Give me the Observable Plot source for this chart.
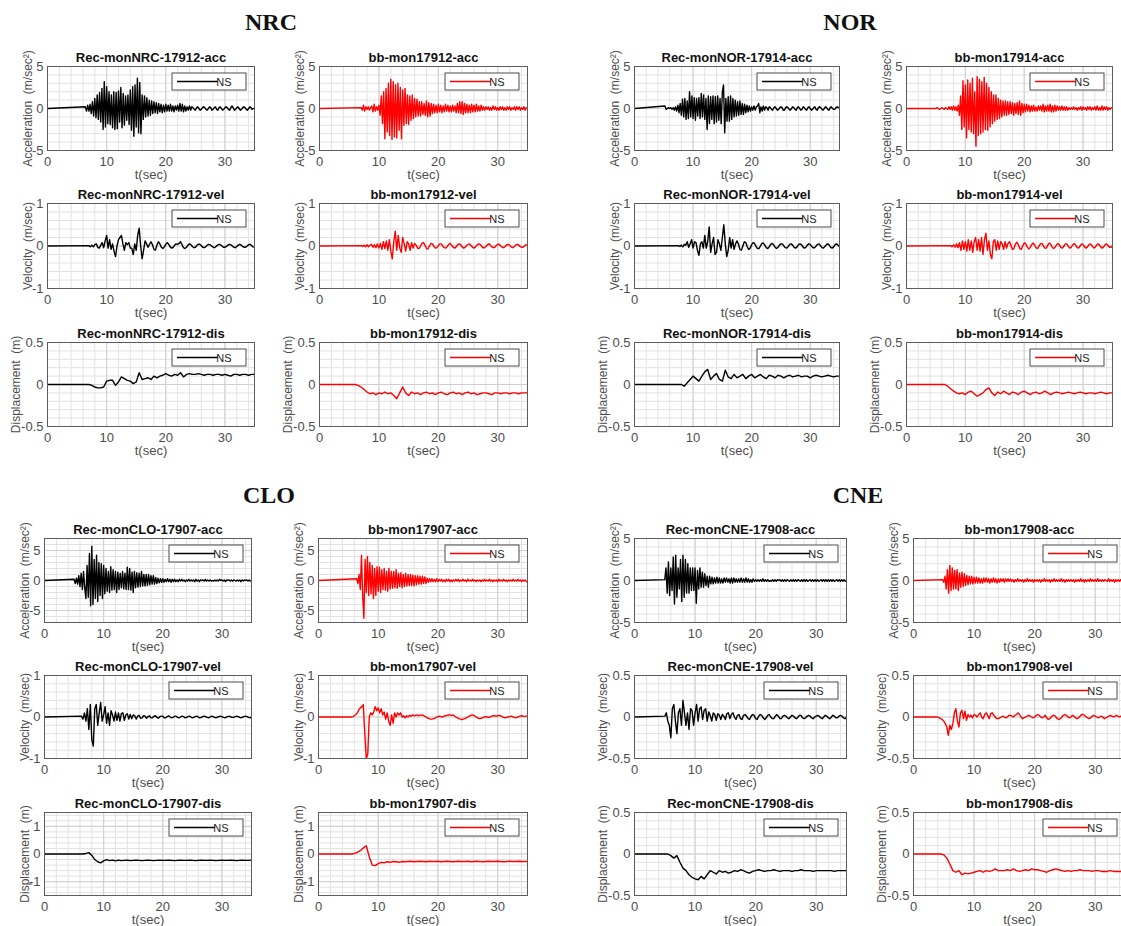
<!DOCTYPE html>
<html><head><meta charset="utf-8">
<script src="https://cdn.jsdelivr.net/npm/d3@7"></script>
<script src="https://cdn.jsdelivr.net/npm/@observablehq/plot@0.6"></script>
<style>
body{margin:0;background:#fff;}
#root{position:relative;width:1121px;height:926px;overflow:hidden;background:#fff;}
.panel{position:absolute;}
.panel svg{max-width:none;overflow:visible;}
#heads{position:absolute;left:0;top:0;}
</style></head><body><div id="root">
<svg id="heads" width="1121" height="926"></svg>
</div>
<script>
// ---------- tick labels ----------
const xTicks = [0, 10, 20, 30];
const accTicks = [-5, 0, 5];
const velTicks = [-1, 0, 1];
const halfTicks = [-0.5, 0, 0.5];
const cloDisTicks = [-1, 0, 1];

// ---------- group titles ----------
const groupNames = ["NRC", "NOR", "CLO", "CNE"];

// ---------- acceleration (m/sec^2), step 0.2 s from onset ----------
const nrcRecAcc = [.2,-.3,.4,-.3,.5, -.6,.8,-.9,1.2,-1.1, 1.6,-1.3,1.9,-1.6,2.4, -2.5,3.2,-2.2,2.6,-1.8, 2.0,-1.9,1.6,-2.3,2.0, -2.5,1.9,-2.4,2.1,-1.6, 2.5,-2.3,1.8,-2.0,1.5, -1.4,1.6,-1.9,2.2,-2.6, 2.6,-3.3,2.8,-2.2,3.6, -2.9,3.1,-3.0,1.6,-1.3, 1.5,-1.0,1.3,-.9,1.0, -.8,.9,-.6,.8,-.5, .7,-.6,.6,-.4,.5, -.5,.4,-.4,.5,-.3, .4,-.3,.5,-.3,.3, -.4,.3,-.2,.4,-.3, .6,-.3,.5,-.4,.3, -.3,.2,-.2,.3,-.2, .2,.1,-.1,-.2,.1, .2,0,-.2,-.1,.1, .2,.1,-.1,-.2,0, .2,.1,-.2,-.1,.1, .2,-.1,-.2,.1,.2, 0,-.2,-.1,.1,.2, .1,-.1,-.2,.1,.3, .1,-.2,-.1,.1,.2, 0,-.2,-.1,.1,.2, .1,-.1,-.2,0,.2, .1,-.1,0];
const nrcBbAcc = [.1,-.2,.4,-.3,.2, -.1,.2,-.2,.1,.3, -.4,.5,-.3,.2,-.2, .4,-.8,1.5,-1.8,2.0, -3.6,2.4,-2.8,3.0,-3.2, 3.5,-3.7,3.2,-3.4,2.8, -3.5,3.0,-2.6,2.5,-3.6, 2.2,-2.0,2.4,-1.8,1.6, -1.9,1.5,-1.4,1.6,-1.2, 1.2,-1.0,1.1,-.9,.8, -.9,.8,-.7,.6,-.8, .9,-1.0,.7,-.9,.6, -.6,.5,-.5,.4,-.5, .5,-.4,.4,-.5,.3, -.4,.5,-.3,.4,-.4, .3,-.4,.4,-.3,.3, -.5,.6,-.5,.8,-.6, .8,-.7,.6,-.5,.5, -.5,.4,-.5,.5,-.4, .4,-.4,.5,-.3,.3, -.3,.4,-.2,.2,-.2, .2,-.1,.2,-.2,.1, -.2,.3,-.1,.2,-.2, .1,-.2,.2,-.1,.2, -.2,.1,-.2,.2,-.1, .2,-.2,.1,-.1,.2, -.2,.2,-.1,.2,-.2, .1,-.1,.2,-.2,.1];
const norRecAcc = [.3,-.1,0,.1,0, .1,-.1,.1,-.2,.2, -.3,.4,-.5,.6,-.8, 1.1,-1.0,1.2,-1.3,.9, -1.2,2.0,-1.0,1.5,-1.2, 1.3,-1.4,1.2,-.9,1.3, -1.2,1.8,-1.0,1.6,-1.3, 1.2,-2.5,1.5,-1.8,1.4, -1.3,1.5,-1.8,1.4,-1.6, 1.5,-1.4,1.2,-1.8,2.0, 2.8,-2.9,1.2,-1.5,1.4, -1.5,1.5,-1.3,1.2,-1.0, 1.0,-.9,.8,-.8,.9, -.7,.6,-.7,.5,-.5, .4,-.4,.3,-.3,.2, -.2,.3,-.2,.2,.3, .6,-.5,.2,-.3,.3, -.2,.2,.1,-.2,.2, .1,-.1,-.2,.1,.2, 0,-.2,-.1,.1,.2, .1,-.2,-.2,.1,.2, .1,-.1,-.2,0,.2, .1,-.1,-.2,.1,.2, 0,-.2,-.1,.2,.1, -.1,-.2,.1,.2,0, -.2,-.1,.1,.2,-.1, -.2,.1,.2,.1,-.1, -.2,0,.2,.1,-.1, -.2,.1,.2,0,-.1, -.1,.1,.2,.1];
const norBbAcc = [0,.1,0,-.1,0, .1,0,-.1,.1,0, -.1,.2,-.1,.2,-.2, .3,-.2,.2,-.3,.4, -.8,1.5,-2.5,3.3,-2.2, 2.8,-3.5,3.4,-2.5,3.0, -2.8,3.6,-3.0,2.0,-4.5, 3.8,-3.2,3.5,-3.0,3.2, -2.8,3.7,-2.5,3.0,-2.6, 2.5,-2.2,2.0,-1.8,1.6, -1.5,1.6,-1.3,1.2,-1.2, 1.0,-1.0,.9,-.8,.9, -.8,.8,-.7,.8,-.6, .7,-.8,.6,-.6,.7, -.7,.9,-.8,.6,-.5, .5,-.4,.5,-.3,.4, -.4,.3,-.3,.4,-.3, .2,-.3,.3,-.2,.3, -.3,.5,-.4,.3,-.3, .4,-.3,.5,-.4,.3, -.4,.4,-.3,.3,-.2, .2,-.2,.3,-.2,.2, -.2,.2,-.2,.1,-.1, .1,-.1,.2,-.1,.1, -.2,.1,-.1,.2,-.2, .2,-.1,.1,-.2,.2, -.1,.2,-.2,.1,-.1, .2,-.2,.3,-.2,.1, -.2,.3,-.2,.2,-.1, .2,-.2,.1,-.1,.1];
const cloRecAcc = [.2,-.5,.4,-.6,.8, -1.0,1.2,-1.5,1.5,-1.2, -3.0,2.5,-2.8,4.5,-4.2, 5.7,-4.0,3.5,-3.0,4.2, -3.5,3.0,-2.5,2.8,-3.0, 2.5,-2.2,2.0,-1.8,1.5, -2.0,2.3,-1.6,1.8,-1.5, 1.5,-2.0,1.4,-1.5,1.2, -1.2,1.5,-1.4,1.2,-1.5, 2.2,-1.5,2.0,-1.6,1.4, -2.0,1.5,-1.2,1.3,-1.1, 1.2,-1.0,1.5,-.9,1.0, -.9,1.0,-.8,1.0,-.7, .8,-.6,.8,-.6,.5, -.5,.4,-.4,.3,-.3, .3,-.3,.2,-.2,.3, -.2,.2,-.3,.2,-.2, .2,-.2,.1,-.2,.2, -.1,.2,-.1,.1,-.2, .1,-.1,.2,-.1,.1, -.1,.1,-.2,.2,-.1, .1,-.2,.1,0,.1, -.1,.2,-.1,.1,-.1, .1,-.1,0,-.1,.1, -.1,.1,-.1,.2,0, .1,-.1,.1,-.2,.1, 0,.1,-.1,.1,-.1, .1,0,-.1,.1,-.1, .1,-.2,.1,-.1,.1, 0,.1,-.1,.1,-.1];
const cloBbAcc = [.3,-.5,1.0,-1.5,4.2, -2.5,-6.3,3.5,-2.0,4.0, -2.5,3.0,-2.2,2.5,-3.0, 2.0,-2.5,2.3,-1.8,2.2, -2.0,1.8,-1.5,2.0,-1.6, 1.5,-1.8,2.0,-1.4,1.5, -1.3,1.5,-1.2,1.8,-1.3, 1.2,-1.0,1.3,-1.2,1.0, -1.0,1.2,-.9,1.0,-.8, 1.0,-.8,.9,-.9,.8, -.7,.8,-.6,.7,-.6, .7,-.5,.6,-.5,.4, -.3,.3,-.2,.3,-.2, .2,-.2,.3,-.2,.2, -.1,.2,-.2,.1,-.2, .2,-.1,.2,-.2,.1, -.2,.1,-.1,.2,-.1, .2,-.2,.1,-.1,.2, -.1,.1,-.2,.2,-.1, .1,-.1,.2,-.1,.1, -.2,.1,-.1,.1,-.2, .1,-.1,.2,-.1,.1, -.1,.2,-.1,.1,-.2, .1,-.1,.1,-.2,.2, -.1,.1,-.1,.2,-.1, .1,-.2,.1,-.1,.1, -.1,.2,-.1,.1,-.1, .2,-.1,.1,-.2,.1, -.1,.1,-.2];
const cneRecAcc = [.1,1.5,-1.5,2.2,-1.8, 1.5,-1.2,2.8,-2.8,3.0, -2.0,1.5,-1.0,2.5,-2.5, 3.0,-2.0,2.5,-1.5,2.0, -1.5,1.5,-1.2,1.5,-1.2, 1.5,-2.7,1.2,-1.0,1.5, -.8,1.0,-.8,.8,-.6, .5,-.8,.5,-.4,.4, -.4,.3,-.3,.4,-.3, .3,-.3,.2,-.3,.3, -.2,.3,-.2,.2,-.3, .3,-.3,.3,-.2,.2, -.2,.2,-.2,.3,-.2, .2,-.2,.3,-.2,.2, -.2,.1,-.2,.2,-.1, .1,-.1,.1,-.1,.1, -.1,.2,-.1,.1,-.1, .1,-.1,0,-.1,.1, -.1,.1,-.1,.1,0, .1,-.1,.1,-.1,.1, -.1,.1,0,-.1,.1, -.1,.1,-.1,.1,-.1, .1,0,-.1,.1,-.1, .1,-.1,.1,-.1,0, .1,-.1,.1,-.1,.1, -.1,.1,-.1,0,.1, -.1,.1,-.1,.1,-.1, .1,-.1,.1,-.1,.1, -.1,0,.1,-.1,.1, -.1,.1,-.1,.1,-.1, 0];
const cneBbAcc = [.1,-.2,.5,-1.0,1.3, -1.5,1.8,-1.2,1.5,-1.0, 1.2,-1.0,1.3,-1.2,.9, -.8,1.0,-.7,.8,-.6, .6,-.5,.5,-.4,.5, -.4,.4,-.3,.4,-.3, .3,-.3,.2,-.3,.3, -.2,.3,-.2,.2,-.3, .2,-.2,.3,-.2,.2, -.3,.2,-.2,.2,-.1, .2,-.2,.2,-.1,.2, -.1,.2,-.1,.1,-.2, .1,-.1,.2,-.1,.1, -.1,.1,-.2,.1,-.1, .2,-.1,.1,-.1,.1, -.2,.1,-.1,.1,-.1, .1,-.2,.1,-.1,.2, -.1,.1,-.1,.1,-.2, .1,-.1,.2,-.1,.1, -.1,.1,-.1,.2,-.1, .1,-.2,.1,-.1,.1, -.1,.1,-.1,.1,-.2, .1,-.1,.1,-.1,.2, -.1,.1,-.2,.1,-.1, .1,-.1,.2,-.1,.1, -.1,.1,-.1,.2,-.1, .1,-.1,.1,-.1,.1, 0,-.1,.2,-.1,.1, -.1,.1,-.2,.1,-.1, .1,-.1,.1,-.2,.1, 0];

// ---------- velocity (m/sec), step 0.25 s from onset ----------
const nrcRecVel = [.01,-.02,.02,-.02, .03,.05,-.03,-.05, .02,.08,-.04,.12, .25,-.05,.15,-.08, .05,-.12,-.25,0, .15,.2,.25,.05, -.1,.08,.03,.08, -.05,-.05,-.2,.05, -.1,.25,.42,0, -.3,-.1,.12,.05, -.03,.04,.1,.03, -.08,-.1,.02,.1, .05,-.03,-.06,-.02, .04,.08,.04,-.02, -.05,-.03,.02,.05, .04,.06,.1,.03, -.04,-.06,-.03,.02, .05,.03,-.01,-.04, -.03,.01,.04,.04, .01,-.03,-.04,-.02, .02,.04,.03,0, -.03,-.04,-.01,.02, .04,.03,0,-.03, -.03,-.01,.02,.04, .03,0,-.03,-.04, -.01,.02,.04,.02, -.01,-.03,-.03,0, .03,.04,.01,-.02, -.03];
const nrcBbVel = [.01,-.01,.02,-.02, .03,-.02,.02,.04, -.03,.03,-.04,.05, -.05,.06,-.08,.1, -.06,.12,-.1,.15, -.12,-.3,.1,.35, -.1,.25,-.05,-.15, .2,.05,-.12,.1, .05,-.1,.08,-.05, .06,.02,-.05,-.06, 0,.06,.08,.02, -.06,-.07,0,.06, .05,-.01,-.05,-.04, .01,.05,.05,0, -.04,-.05,-.01,.04, .06,.02,-.03,-.05, -.02,.03,.05,.03, -.02,-.05,-.03,.01, .04,.05,.01,-.03, -.05,-.02,.02,.05, .04,0,-.04,-.04, -.01,.03,.05,.02, -.02,-.04,-.03,.01, .04,.04,0,-.03, -.04,-.01,.03,.04, .02,-.02,-.04,-.02, .02,.04,.03,-.01, -.03,-.03,0,.03, .03];
const norRecVel = [.01,-.01, .02,-.02,.04,.02, .1,-.03,.05,.15, -.05,.1,.08,-.1, -.22,.05,.1,-.05, .25,-.05,.1,.45, -.15,.05,.2,-.2, -.15,.15,.05,-.1, .2,.5,.05,-.25, -.1,.2,-.05,.15, -.08,.05,.12,.04, -.08,-.1,0,.1, .08,-.02,-.08,-.05, .03,.08,.06,-.01, -.06,-.06,0,.06, .07,.02,-.04,-.06, -.02,.04,.06,.03, -.03,-.06,-.03,.02, .05,.05,0,-.04, -.05,-.01,.04,.05, .02,-.03,-.05,-.02, .03,.05,.03,-.02, -.05,-.03,.02,.05, .04,-.01,-.04,-.04, 0,.04,.05,.01, -.04,-.05,-.01,.03, .05,.02,-.03,-.05, -.02,.03,.05,.02, -.02];
const norBbVel = [.01,-.02, .03,-.03,.05,-.04, .08,-.1,.12,-.08, .1,-.12,.15,-.1, .12,-.15,.1,.2, -.1,.15,-.12,.2, -.2,.15,.3,-.1, .12,-.2,-.3,.1, .15,-.1,.12,-.08, .1,.05,-.08,.1, -.05,.06,.1,.02, -.08,-.06,.04,.09, .03,-.06,-.08,0, .07,.06,-.02,-.07, -.04,.03,.07,.03, -.04,-.06,-.01,.05, .06,0,-.05,-.05, .02,.07,.04,-.03, -.06,-.03,.03,.06, .02,-.04,-.05,0, .05,.05,-.01,-.05, -.03,.03,.06,.02, -.04,-.05,0,.05, .04,-.02,-.05,-.02, .03,.05,.01,-.04, -.04,.01,.05,.03, -.02,-.05,-.02,.03, .05,.01,-.03,-.03, .01];
const cloRecVel = [.02,-.05,.1, -.1,.2,-.3,.3, -.55,-.7,.2,.3, -.2,.1,.35,-.1, .05,.25,-.15,.1, -.2,.15,.05,-.1, .12,-.08,.1,-.1, .08,.1,-.08,.05, .08,-.05,.06,-.04, .05,.03,-.05,.02, .04,-.03,-.02,.03, .02,-.03,.01,.03, -.02,-.02,.02,.03, -.01,-.03,.01,.02, .02,-.02,-.02,.01, .03,0,-.02,-.01, .02,.02,-.01,-.02, 0,.02,.01,-.02, -.01,.01,.02,0, -.02,-.01,.01,.02, 0,-.02,-.01,.01, .02,.01,-.01,-.02, 0,.02,.01,-.01, -.02,0,.01,.02, .01,-.01,-.02,0, .01,.02,0,-.01, -.01,.01,.02,.01, -.01,-.02,0,.01, .02,.01,-.01,-.02, 0];
const cloBbVel = [0,.01, .03,.06,.1,.17, .22,.25,.3,-.4, -1.0,-.9,0,.1, .05,.12,.25,.15, .22,.1,.2,.05, .12,-.05,.1,-.1, -.2,.05,-.15,.1, 0,.1,.05,.1, 0,.03,-.02,.03, 0,.04,.02,.05, .03,.04,.05,.03, .05,.04,.05,.02, 0,-.02,-.04,-.05, -.05,-.04,-.03,-.01, .01,.02,.01,0, .02,.03,.04,.05, .05,.04,.05,.03, 0,-.02,-.04,-.05, -.06,-.05,-.04,-.02, 0,.02,.04,.05, .04,.02,-.01,-.03, -.04,-.03,-.02,0, .01,0,-.01,0, .02,.03,.03,.02, .03,.04,.03,.01, -.01,-.02,-.01,0, .01,.02,.01,-.01, -.02,-.01,.01,.02, .03,.02,.01,.02, .03];
const cneRecVel = [.01,.05,-.05,-.1, -.25,.1,.15,-.05, -.2,.05,.1,-.1, .2,.05,-.1,.05, -.15,.1,.08,-.1, .05,.15,-.05,.1, .12,-.03,.08,.1, -.05,.06,.02,-.05, .05,.03,-.04,.04, .02,-.03,.03,.01, -.03,.04,.05,-.02, .03,.05,0,-.03, .02,.03,-.02,-.03, .02,.03,.01,-.02, -.03,.01,.03,.02, -.02,-.03,.01,.03, .02,-.01,-.03,-.01, .02,.03,0,-.02, -.02,.01,.03,.01, -.02,-.02,.01,.02, .01,-.01,-.02,0, .02,.01,-.01,-.02, 0,.02,.02,-.01, -.02,-.01,.01,.02, .01,-.01,-.02,0, .01,.02,.01,-.01, -.02,0,.02,.01, -.01,-.02,0,.02, .01,-.01,-.01,.01, .02,.01,-.01,-.02, 0];
const cneBbVel = [0,-.01,-.02,-.03, -.05,-.08,-.12,-.22, -.1,-.15,-.08,.05, .1,-.05,-.12,.05, .08,-.02,.07,-.04, .03,0,.02,-.01, .03,.02,0,.03, .05,0,-.02,.03, .05,.02,-.02,.04, .05,.02,0,-.02, -.02,-.01,0,.01, 0,-.01,0,.02, .02,.01,0,.02, .03,.05,.03,0, -.02,-.01,0,.01, .02,.01,0,-.01, 0,.02,.03,.02, 0,-.01,0,.02, -.01,-.03,-.02,0, .02,.02,0,-.02, -.03,-.02,0,.02, .03,.02,0,-.01, 0,.02,.01,-.01, -.02,-.01,.01,.03, .03,.02,0,-.01, -.02,-.01,.01,.02, .01,0,-.01,0, .01,0,-.02,-.01, 0,.01,.02,.01, 0,.01,.02,.01, 0,.01,.02,.02, .01];

// ---------- displacement (m), step 0.5 s from onset ----------
const nrcRecDis = [0,-.01,-.03,-.04,-.04,-.03, .04,.05,.05,-.01,.03,.09, .07,.05,.04,.01,.03,.14, .06,.07,.08,.06,.1,.08, .1,.11,.13,.11,.1,.12, .11,.14,.09,.12,.13,.12, .12,.13,.12,.11,.12,.12, .11,.12,.12,.11,.12,.11, .1,.12,.12,.11,.12,.12, .11,.12,.12];
const nrcBbDis = [0,-.01,-.03,-.06,-.09,-.11, -.1,-.12,-.1,-.11,-.09,-.11, -.1,-.13,-.17,-.1,-.03,-.1, -.13,-.09,-.11,-.1,-.12,-.1, -.09,-.11,-.1,-.12,-.1,-.09, -.11,-.12,-.1,-.09,-.11,-.1, -.12,-.1,-.09,-.11,-.1,-.12, -.11,-.1,-.1,-.11,-.12,-.1, -.1,-.11,-.1,-.1,-.11,-.1, -.1,-.11,-.1,-.1,-.1];
const norRecDis = [0,-.02,.02,.06,.1,.07, .04,.1,.15,.18,.06,.1, .13,.06,.04,.17,.09,.07, .12,.08,.1,.12,.07,.1, .12,.08,.1,.12,.09,.07, .11,.1,.08,.11,.1,.08, .1,.11,.09,.1,.11,.09, .1,.1,.08,.1,.11,.1, .09,.1,.11,.1,.09,.1, .1];
const norBbDis = [0,-.02,-.05,-.08,-.1,-.11, -.1,-.12,-.09,-.08,-.11,-.14, -.12,-.1,-.06,-.04,-.1,-.13, -.09,-.11,-.08,-.1,-.12,-.09, -.1,-.12,-.09,-.08,-.1,-.12, -.1,-.09,-.11,-.1,-.08,-.1, -.12,-.1,-.09,-.1,-.11,-.1, -.09,-.1,-.11,-.1,-.09,-.1, -.11,-.1,-.1,-.11,-.1,-.09, -.1,-.11,-.1,-.1];
const cloRecDis = [0,.02,.05,-.05,-.2,-.28, -.32,-.25,-.2,-.24,-.22,-.25, -.22,-.24,-.23,-.22,-.24,-.23, -.22,-.23,-.24,-.23,-.22,-.23, -.24,-.23,-.22,-.23,-.23,-.22, -.23,-.24,-.23,-.22,-.23,-.23, -.22,-.23,-.24,-.23,-.22,-.23, -.23,-.22,-.23,-.24,-.23,-.22, -.23,-.23,-.22,-.23,-.24,-.23, -.22,-.23,-.23,-.22];
const cloBbDis = [0,.02,.06,.12,.22,.3, -.1,-.4,-.42,-.35,-.3,-.32, -.28,-.3,-.27,-.28,-.3,-.27, -.28,-.27,-.26,-.28,-.27,-.26, -.27,-.28,-.26,-.27,-.27,-.26, -.28,-.27,-.26,-.27,-.28,-.27, -.26,-.27,-.27,-.26,-.28,-.27, -.26,-.27,-.28,-.27,-.26,-.27, -.27,-.26,-.27,-.28,-.27,-.26, -.27,-.27,-.26,-.27,-.27, -.27];
const cneRecDis = [0,-.02,-.05,-.02,-.1,-.17, -.2,-.25,-.28,-.3,-.31,-.27, -.3,-.25,-.2,-.22,-.24,-.2, -.22,-.21,-.23,-.22,-.2,-.21, -.19,-.2,-.22,-.23,-.21,-.2, -.19,-.2,-.21,-.2,-.2,-.19, -.2,-.21,-.2,-.2,-.2,-.21, -.2,-.2,-.19,-.2,-.2,-.2, -.21,-.2,-.2,-.2,-.2,-.2, -.2,-.21,-.2,-.2,-.2, -.2];
const cneBbDis = [0,-.01,-.05,-.12,-.2,-.22, -.2,-.25,-.23,-.24,-.23,-.22, -.21,-.2,-.22,-.2,-.21,-.2, -.18,-.2,-.2,-.2,-.19,-.2, -.18,-.2,-.21,-.2,-.19,-.2, -.18,-.19,-.19,-.2,-.21,-.22, -.2,-.19,-.18,-.19,-.2,-.21, -.2,-.21,-.2,-.2,-.19,-.2, -.2,-.2,-.21,-.2,-.2,-.21, -.21,-.21,-.2,-.21,-.21,-.21, -.21,-.21];

// onset time (s) of each record, same order as the series list below
const onsets = [6.4,7.0,7.0,7.0,7.0,6.0, 5.2,5.0,7.5,7.5,8.0,6.5, 5.0,6.4,6.25,5.5,6.5,5.5, 5.0,4.8,5.0,4.0,5.5,4.5];

// ---------- layout ----------
const FONT = '"Liberation Sans", Arial, Helvetica, sans-serif';
const ML = 52, MR = 8, MT = 24, MB = 34;
const colsTop = [[47,254],[319,527],[634,839],[906,1112]];
const colsBot = [[44,251],[318,527],[634,846],[913,1125]];
const rowsTop = [[66,150],[203,288],[342,426]];
const rowsBot = [[538,622],[675,758],[812,895]];
const headPos = [[271,29.5],[850,29.5],[269,503],[858,503]];

const kinds = ["acc","vel","dis"];
const steps = {acc: 0.2, vel: 0.25, dis: 0.5};
const yLabels = {acc: "Acceleration\u00a0\u00a0(m/sec\u00b2)", vel: "Velocity\u00a0\u00a0(m/sec)", dis: "Displacement\u00a0\u00a0(m)"};

const groups = [
  {name: groupNames[0], rec: "Rec-monNRC-17912", bb: "bb-mon17912", cols: colsTop.slice(0,2), rows: rowsTop,
   data: [[nrcRecAcc,nrcBbAcc],[nrcRecVel,nrcBbVel],[nrcRecDis,nrcBbDis]],
   y: {acc: [[-5,5],accTicks,1], vel: [[-1,1],velTicks,0.2], dis: [[-0.5,0.5],halfTicks,0.1]}},
  {name: groupNames[1], rec: "Rec-monNOR-17914", bb: "bb-mon17914", cols: colsTop.slice(2,4), rows: rowsTop,
   data: [[norRecAcc,norBbAcc],[norRecVel,norBbVel],[norRecDis,norBbDis]],
   y: {acc: [[-5,5],accTicks,1], vel: [[-1,1],velTicks,0.2], dis: [[-0.5,0.5],halfTicks,0.1]}},
  {name: groupNames[2], rec: "Rec-monCLO-17907", bb: "bb-mon17907", cols: colsBot.slice(0,2), rows: rowsBot,
   data: [[cloRecAcc,cloBbAcc],[cloRecVel,cloBbVel],[cloRecDis,cloBbDis]],
   y: {acc: [[-7,7],accTicks,1], vel: [[-1,1],velTicks,0.2], dis: [[-1.5,1.5],cloDisTicks,0.2]}},
  {name: groupNames[3], rec: "Rec-monCNE-17908", bb: "bb-mon17908", cols: colsBot.slice(2,4), rows: rowsBot,
   data: [[cneRecAcc,cneBbAcc],[cneRecVel,cneBbVel],[cneRecDis,cneBbDis]],
   y: {acc: [[-5,5],accTicks,1], vel: [[-0.5,0.5],halfTicks,0.1], dis: [[-0.5,0.5],halfTicks,0.1]}}
];

const root = document.getElementById("root");
const heads = d3.select("#heads");
groups.forEach((g, gi) => {
  heads.append("text").attr("x", headPos[gi][0]).attr("y", headPos[gi][1])
    .attr("text-anchor", "middle").attr("font-family", '"Liberation Serif","Times New Roman",serif')
    .attr("font-weight", "bold").attr("font-size", 24).attr("fill", "#111").text(g.name);
});

function toPoints(t0, dt, vals) {
  const pts = [{t: 0, v: 0}];
  vals.forEach((v, i) => pts.push({t: t0 + i * dt, v}));
  return pts;
}

function minorTicks(domain, step) {
  const out = [];
  for (let k = Math.ceil(domain[0] / step - 1e-9); k * step <= domain[1] + 1e-9; k++) out.push(+(k * step).toFixed(4));
  return out;
}
const xMinor = minorTicks([0, 35], 2);

let si = 0;
groups.forEach((g) => {
  kinds.forEach((kind, ki) => {
    [0, 1].forEach((src) => {
      const t0 = onsets[si++];
      const vals = g.data[ki][src];
      const color = src === 0 ? "#000000" : "#ff0000";
      const [x0, x1] = g.cols[src];
      const [y0, y1] = g.rows[ki];
      const w = x1 - x0, h = y1 - y0;
      const W = w + ML + MR, H = h + MT + MB;
      const [yDom, yT, yStep] = g.y[kind];
      const decimal = yT.some(d => !Number.isInteger(d));
      const title = (src === 0 ? g.rec : g.bb) + "-" + kind;
      const pts = toPoints(t0, steps[kind], vals);
      const svg = Plot.plot({
        width: W, height: H,
        marginLeft: ML, marginRight: MR, marginTop: MT, marginBottom: MB,
        style: {fontFamily: FONT, background: "transparent", overflow: "visible"},
        x: {domain: [0, 35], label: null},
        y: {domain: yDom, label: null},
        marks: [
          Plot.gridX(xMinor, {stroke: "#e2e2e2", strokeOpacity: 1}),
          Plot.gridY(minorTicks(yDom, yStep), {stroke: "#e2e2e2", strokeOpacity: 1}),
          Plot.gridX(xTicks, {stroke: "#cfcfcf", strokeOpacity: 1}),
          Plot.gridY(yT, {stroke: "#cfcfcf", strokeOpacity: 1}),
          Plot.line(pts, {x: "t", y: "v", stroke: color, strokeWidth: kind === "acc" ? 1.4 : 1.4, clip: true}),
          Plot.frame({stroke: "#5c5c5c"}),
          Plot.axisX(xTicks, {tickSize: 0, tickPadding: 6, fontSize: 13, fill: "#4d4d4d", label: null, tickFormat: d => String(d)}),
          Plot.axisY(yT, {tickSize: 0, tickPadding: 4, fontSize: 13, fill: "#4d4d4d", label: null, tickFormat: d => String(d)}),
          Plot.text([title], {text: d => d, frameAnchor: "top", lineAnchor: "middle", textAnchor: "middle", dy: -8.5, fontWeight: "bold", fontSize: 13, fill: "#111"}),
          Plot.text(["t(sec)"], {text: d => d, frameAnchor: "bottom", lineAnchor: "middle", textAnchor: "middle", dy: 24, fontSize: 13, fill: "#4d4d4d"}),
          Plot.text([yLabels[kind]], {text: d => d, frameAnchor: "left", lineAnchor: "middle", textAnchor: "middle", rotate: -90, dx: decimal ? -31 : -19, fontSize: 12, fill: "#4d4d4d"})
        ]
      });
      // legend box "NS"
      const lg = d3.select(svg).append("g").attr("transform", `translate(${ML + w - 82},${MT + 7})`);
      lg.append("rect").attr("width", 74).attr("height", 17).attr("fill", "#fff").attr("stroke", "#3a3a3a").attr("stroke-width", 0.9);
      lg.append("line").attr("x1", 5).attr("x2", 46).attr("y1", 8.5).attr("y2", 8.5).attr("stroke", color).attr("stroke-width", 1.7);
      lg.append("text").attr("x", 52).attr("y", 12.6).attr("font-size", 11).attr("fill", "#222").attr("font-family", FONT).text("NS");
      const div = document.createElement("div");
      div.className = "panel";
      div.style.left = (x0 - ML) + "px";
      div.style.top = (y0 - MT) + "px";
      div.style.width = W + "px";
      div.style.height = H + "px";
      div.appendChild(svg);
      root.appendChild(div);
    });
  });
});
</script></body></html>
